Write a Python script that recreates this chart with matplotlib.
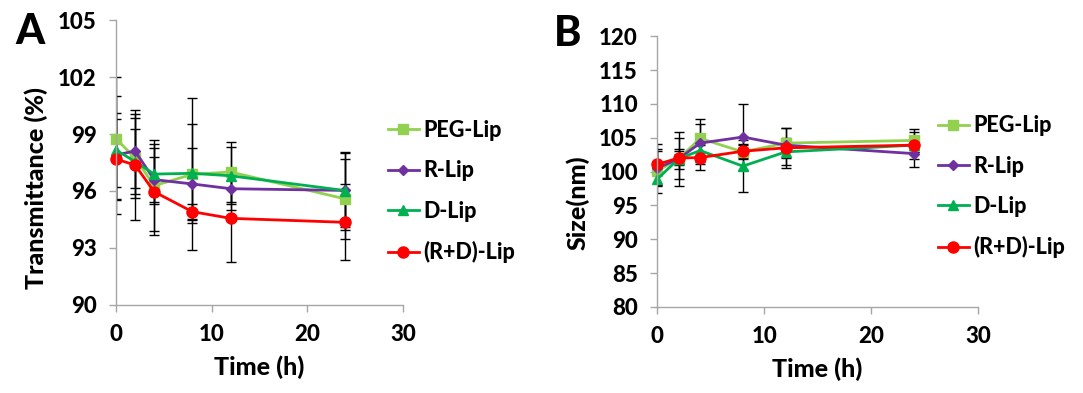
import numpy as np
import matplotlib
matplotlib.use("Agg")
import matplotlib.pyplot as plt

## Data

time_h = [0, 2, 4, 8, 12, 24]
labels = ["PEG-Lip", "R-Lip", "D-Lip", "(R+D)-Lip"]

# Panel A: transmittance (%)
trans_peg = [98.75, 97.75, 96.28, 96.88, 97.0, 95.58]
trans_r = [97.9, 98.1, 96.6, 96.37, 96.12, 96.03]
trans_d = [98.16, 97.55, 96.89, 96.93, 96.8, 96.02]
trans_rd = [97.68, 97.37, 95.96, 94.91, 94.56, 94.35]
trans_peg_err = [3.25, 2.1, 2.4, 4.0, 1.6, 2.1]
trans_r_err = [3.1, 1.95, 1.2, 1.9, 1.1, 1.95]
trans_d_err = [1.95, 1.7, 1.6, 2.6, 1.5, 2.05]
trans_rd_err = [2.1, 2.9, 2.3, 0.4, 2.3, 2.0]

# Panel B: size (nm)
size_peg = [100.1, 101.9, 104.9, 102.9, 104.2, 104.6]
size_r = [100.5, 101.9, 104.2, 105.1, 103.9, 102.65]
size_d = [98.9, 101.9, 103.1, 100.8, 102.9, 103.9]
size_rd = [101.07, 102.0, 102.06, 103.0, 103.5, 103.9]
size_peg_err = [3.2, 3.0, 2.8, 1.0, 2.2, 1.7]
size_r_err = [2.5, 4.0, 2.8, 4.9, 0.8, 2.0]
size_d_err = [1.0, 1.5, 2.0, 3.8, 2.0, 1.0]
size_rd_err = [3.0, 1.0, 1.9, 1.0, 3.0, 2.0]

## Styles

colors = ["#92D050", "#7030A0", "#00B050", "#FF0000"]
markers = ["s", "D", "^", "o"]
msizes = [7.5, 5, 7.5, 8]
WEIGHT = "black"

plt.rcParams['font.family'] = ['Lato', 'DejaVu Sans']

fig = plt.figure(figsize=(10.83, 3.93), dpi=100)


def style_axes(ax, yticks, ylabel, ylabel_y):
    for side in ["top", "right"]:
        ax.spines[side].set_visible(False)
    for side in ["left", "bottom"]:
        ax.spines[side].set_color("#A6A6A6")
        ax.spines[side].set_linewidth(1.0)
    ax.set_xlim(0, 30)
    ax.set_xticks([0, 10, 20, 30])
    ax.set_ylim(yticks[0], yticks[-1])
    ax.set_yticks(yticks)
    ax.tick_params(axis="both", direction="out", length=5, width=1.0,
                   color="#A6A6A6", labelsize=16, pad=9)
    for lab in ax.get_xticklabels() + ax.get_yticklabels():
        lab.set_fontweight(WEIGHT)
    ax.set_xlabel("Time (h)", fontsize=18, fontweight=WEIGHT, labelpad=7)
    ax.set_ylabel(ylabel, fontsize=18, fontweight=WEIGHT, labelpad=7)
    ax.yaxis.label.set_y(ylabel_y)  # the labels sit a bit below centre in the original


def draw_panel(ax, series, errors, legend_anchor):
    for vals, errs in zip(series, errors):
        ax.errorbar(time_h, vals, yerr=errs, fmt="none", ecolor="black",
                    elinewidth=1.0, capsize=3.5, capthick=1.0, zorder=1)
    for vals, c, m, ms, lab in zip(series, colors, markers, msizes, labels):
        ax.plot(time_h, vals, color=c, marker=m, markersize=ms, linewidth=2,
                label=lab, zorder=2, clip_on=False)
    leg = ax.legend(loc="upper left", bbox_to_anchor=legend_anchor,
                    bbox_transform=fig.transFigure, frameon=False,
                    fontsize=15.5, handlelength=1.45, handletextpad=0.2,
                    labelspacing=0.9, borderpad=0, borderaxespad=0)
    for t in leg.get_texts():
        t.set_fontweight(WEIGHT)


# Panel A
axA = fig.add_axes([0.107, 0.224, 0.265, 0.725])
draw_panel(axA, [trans_peg, trans_r, trans_d, trans_rd],
           [trans_peg_err, trans_r_err, trans_d_err, trans_rd_err],
           (0.358, 0.695))
style_axes(axA, [90, 93, 96, 99, 102, 105], "Transmittance (%)", 0.41)

# Panel B
axB = fig.add_axes([0.607, 0.219, 0.296, 0.689])
draw_panel(axB, [size_peg, size_r, size_d, size_rd],
           [size_peg_err, size_r_err, size_d_err, size_rd_err],
           (0.866, 0.707))
style_axes(axB, [80, 85, 90, 95, 100, 105, 110, 115, 120], "Size(nm)", 0.385)

fig.text(0.028, 0.918, "A", fontsize=30, fontweight=WEIGHT, ha="center", va="center")
fig.text(0.524, 0.913, "B", fontsize=30, fontweight=WEIGHT, ha="center", va="center")

fig.savefig("out.png", dpi=100)
